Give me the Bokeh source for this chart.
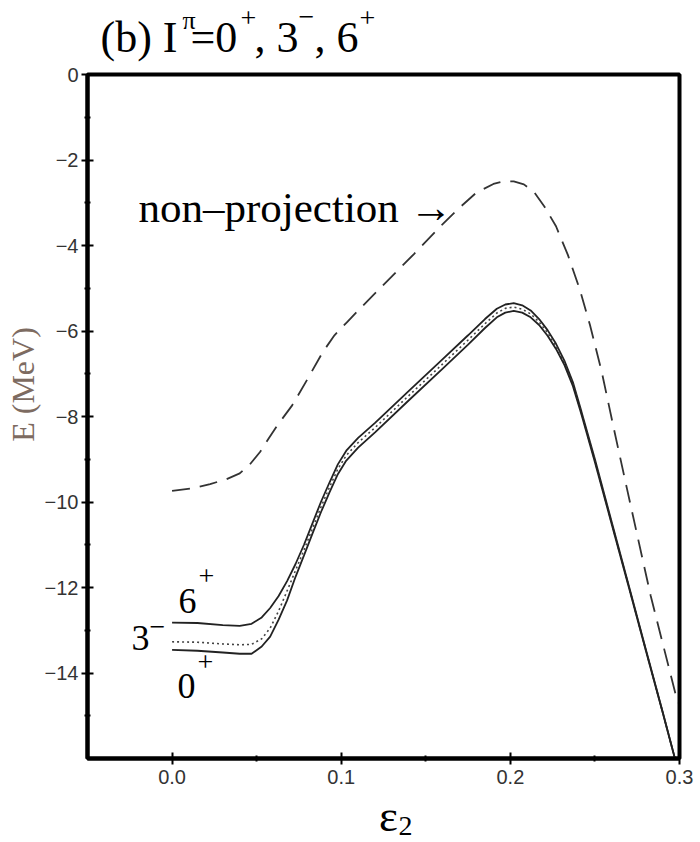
from bokeh.plotting import figure
from bokeh.models import Label, FixedTicker, Range1d
from bokeh.layouts import column
from bokeh.embed import file_html
from bokeh.resources import INLINE

# ---- data ----
eps = [0.000, 0.015, 0.030, 0.040, 0.047, 0.053, 0.058, 0.063, 0.068, 0.073,
       0.078, 0.083, 0.088, 0.093, 0.098, 0.103, 0.110, 0.120, 0.140, 0.160,
       0.175, 0.185, 0.192, 0.197, 0.202, 0.207, 0.212, 0.217, 0.222, 0.227,
       0.232, 0.237, 0.242, 0.250, 0.260, 0.270, 0.280, 0.290, 0.297, 0.2975]
e_6plus = [-12.82, -12.83, -12.88, -12.90, -12.85, -12.70, -12.48, -12.20, -11.85, -11.45,
           -11.00, -10.50, -10.00, -9.55, -9.12, -8.80, -8.50, -8.15, -7.40, -6.66,
           -6.10, -5.72, -5.48, -5.38, -5.35, -5.40, -5.52, -5.72, -5.98, -6.30,
           -6.70, -7.20, -7.88, -9.00, -10.48, -11.95, -13.43, -14.90, -15.95, -16.00]
e_3minus = [-13.27, -13.28, -13.32, -13.34, -13.33, -13.20, -12.95, -12.55, -12.08, -11.60,
            -11.12, -10.62, -10.12, -9.66, -9.23, -8.91, -8.61, -8.26, -7.51, -6.77,
            -6.21, -5.83, -5.58, -5.47, -5.44, -5.49, -5.60, -5.79, -6.04, -6.36,
            -6.75, -7.25, -7.92, -9.04, -10.51, -11.97, -13.45, -14.91, -15.96, -16.00]
e_0plus = [-13.46, -13.48, -13.52, -13.55, -13.55, -13.38, -13.15, -12.75, -12.30, -11.75,
           -11.25, -10.74, -10.24, -9.78, -9.35, -9.03, -8.73, -8.37, -7.62, -6.88,
           -6.32, -5.93, -5.68, -5.57, -5.53, -5.57, -5.68, -5.86, -6.11, -6.42,
           -6.80, -7.29, -7.95, -9.07, -10.53, -11.99, -13.46, -14.92, -15.96, -16.00]

eps_np = [0.000, 0.012, 0.0225, 0.032, 0.040, 0.046, 0.052, 0.057, 0.062, 0.071,
          0.080, 0.089, 0.096, 0.1035, 0.113, 0.123, 0.143, 0.160, 0.169, 0.180,
          0.190, 0.196, 0.202, 0.208, 0.214, 0.220, 0.227, 0.234, 0.241, 0.247,
          0.254, 0.261, 0.269, 0.283, 0.299]
e_nonproj = [-9.74, -9.68, -9.58, -9.47, -9.33, -9.12, -8.83, -8.52, -8.22, -7.74,
             -7.13, -6.50, -6.10, -5.79, -5.40, -5.00, -4.20, -3.50, -3.15, -2.76,
             -2.56, -2.50, -2.50, -2.57, -2.75, -3.08, -3.55, -4.22, -5.02, -5.85,
             -6.95, -8.25, -9.70, -12.20, -14.70]

xticks = [0.0, 0.1, 0.2, 0.3]
xtick_labels = ["0.0", "0.1", "0.2", "0.3"]
xminor = [0.05, 0.15, 0.25]
yticks = [0, -2, -4, -6, -8, -10, -12, -14]
ytick_labels = ["0", "\u22122", "\u22124", "\u22126", "\u22128", "\u221210", "\u221212", "\u221214"]
yminor = [-1, -3, -5, -7, -9, -11, -13, -15]

XMIN, XMAX = -0.05, 0.3
YMIN, YMAX = -16.0, 0.0

W = 700
HEAD_H = 62
FOOT_H = 50
MAIN_H = 842 - HEAD_H - FOOT_H
# frame geometry in page pixels
FL, FR, FT, FB = 87, 679, 74, 758

SERIF = "Liberation Serif"
BASE_SHIFT = 0.36  # Bokeh draws 'alphabetic' text this many em below the anchor


def dx(px):
    return XMIN + (px - FL) * (XMAX - XMIN) / (FR - FL)


def dy(py):
    return YMAX - (py - FT) * (YMAX - YMIN) / (FB - FT)


def strip(h, top):
    # a text strip whose frame is aligned with the main frame; data = page pixels
    f = figure(width=W, height=h, output_backend="svg", toolbar_location=None,
               x_range=Range1d(FL, FR), y_range=Range1d(top + h, top),
               x_axis_location=None, y_axis_location=None,
               min_border_left=FL, min_border_right=W - FR,
               min_border_top=0, min_border_bottom=0)
    f.grid.visible = False
    f.outline_line_color = None
    f.background_fill_color = "white"
    f.border_fill_color = "white"
    return f


def slab(fig, text, px, base, size, align="left"):
    fig.add_layout(Label(x=px, y=base - BASE_SHIFT * size, text=text, text_font=SERIF,
                         text_font_size=f"{size}px", text_color="black",
                         text_align=align, text_baseline="alphabetic"))


# ---- header: (b) I^pi = 0^+, 3^-, 6^+ ----
head = strip(HEAD_H, 0)
slab(head, "(b) I", 100, 52.5, 44)
slab(head, "\u03c0", 182, 29, 26)
slab(head, "=0", 190, 52.5, 44)
slab(head, "+", 240, 28, 28)
slab(head, ", 3", 254, 52.5, 44)
slab(head, "\u2212", 298, 27, 28)
slab(head, ", 6", 314, 52.5, 44)
slab(head, "+", 359, 28, 28)

# ---- main plot ----
p = figure(width=W, height=MAIN_H, output_backend="svg", toolbar_location=None,
           x_range=Range1d(XMIN, XMAX), y_range=Range1d(YMIN, YMAX),
           min_border_left=FL, min_border_right=W - FR,
           min_border_top=FT - HEAD_H, min_border_bottom=HEAD_H + MAIN_H - FB)
p.grid.visible = False
p.background_fill_color = "white"
p.border_fill_color = "white"
p.outline_line_color = "black"
p.outline_line_width = 4

for ax in (p.xaxis[0], p.yaxis[0]):
    ax.axis_line_width = 4
    ax.axis_line_color = "black"
    ax.major_tick_line_width = 2
    ax.major_tick_line_color = "black"
    ax.major_tick_in = 6
    ax.major_tick_out = 6
    ax.minor_tick_line_width = 2
    ax.minor_tick_line_color = "black"
    ax.minor_tick_in = 3
    ax.minor_tick_out = 3
    ax.major_label_text_font = "Liberation Sans"
    ax.major_label_text_font_size = "20px"
    ax.major_label_text_color = "#333333"

p.xaxis[0].ticker = FixedTicker(ticks=xticks, minor_ticks=xminor)
p.yaxis[0].ticker = FixedTicker(ticks=yticks, minor_ticks=yminor)
p.xaxis[0].major_label_overrides = {t: s for t, s in zip(xticks, xtick_labels)}
p.yaxis[0].major_label_overrides = {t: s for t, s in zip(yticks, ytick_labels)}
p.xaxis[0].major_label_standoff = 5
p.yaxis[0].major_label_standoff = 3

# y axis title (non-breaking spaces at the start lift the visible words above centre)
p.yaxis[0].axis_label = "\u00a0" * 8 + "E (MeV)"
p.yaxis[0].axis_label_text_font = SERIF
p.yaxis[0].axis_label_text_font_style = "normal"
p.yaxis[0].axis_label_text_font_size = "32px"
p.yaxis[0].axis_label_text_color = "#7d6b61"
p.yaxis[0].axis_label_standoff = 1

# curves
p.line(eps_np, e_nonproj, line_color="#333333", line_width=1.8, line_dash="18 10")
p.line(eps, e_6plus, line_color="#222222", line_width=1.8)
p.line(eps, e_3minus, line_color="#444444", line_width=1.6, line_dash="2 3")
p.line(eps, e_0plus, line_color="#222222", line_width=1.8)


def lab(text, px, base, size, align="left"):
    p.add_layout(Label(x=dx(px), y=dy(base - BASE_SHIFT * size), text=text, text_font=SERIF,
                       text_font_size=f"{size}px", text_color="black",
                       text_align=align, text_baseline="alphabetic"))


lab("non\u2013projection \u2192", 138, 222, 43)
lab("6", 187, 613, 36, align="center")
lab("+", 206, 586, 28, align="center")
lab("3", 140, 650, 36, align="center")
lab("\u2212", 157, 637, 28, align="center")
lab("0", 186, 698, 36, align="center")
lab("+", 205, 672, 28, align="center")

# ---- footer: epsilon_2 ----
foot = strip(FOOT_H, HEAD_H + MAIN_H)
slab(foot, "\u03b5", 388, 832, 45, align="center")
slab(foot, "2", 398, 836, 28)

layout = column(head, p, foot, spacing=0)
open("out.html", "w").write(file_html(layout, INLINE))
